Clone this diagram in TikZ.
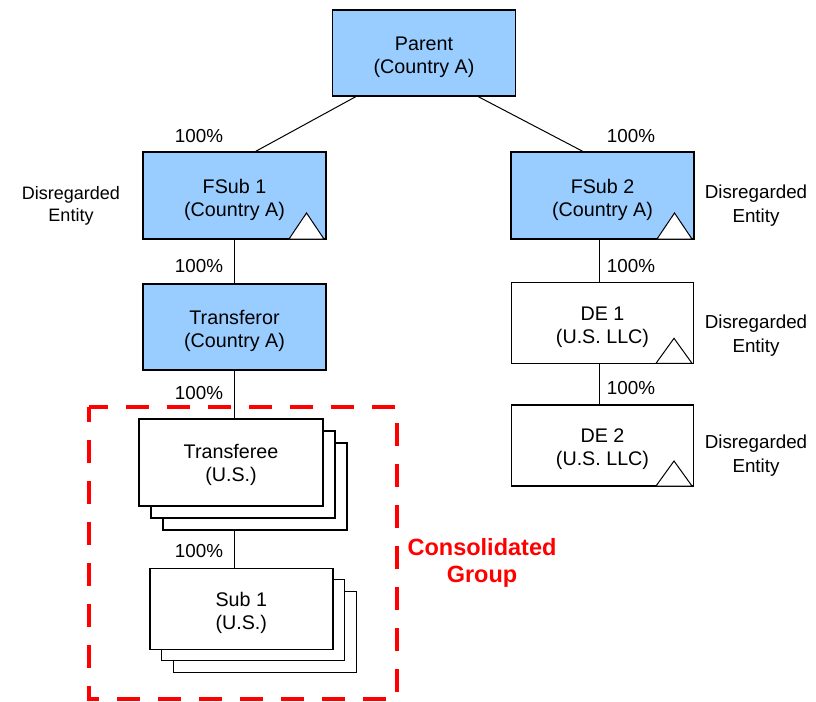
\documentclass[tikz,border=0pt]{standalone}
\usepackage{fontspec}
\setmainfont{Liberation Sans}
\definecolor{boxblue}{RGB}{153,204,255}
\definecolor{grpred}{RGB}{255,0,0}
\begin{document}
\begin{tikzpicture}[x=1pt,y=-1pt,
  boxtext/.style={align=center, inner sep=0pt, font=\fontsize{19.7}{23}\selectfont, yshift=-4pt},
  plainbox/.style={draw=black, line width=1.4pt, fill=white, minimum width=183pt, minimum height=87pt,
    inner sep=0pt, outer sep=0pt},
  box/.style={plainbox, label={[boxtext]center:#1}},
  bluebox/.style={box=#1, fill=boxblue},
  pctlbl/.style={align=center, inner sep=0pt, font=\fontsize{18.8}{23}\selectfont},
  delbl/.style={align=center, inner sep=0pt, font=\fontsize{18}{22.4}\selectfont},
  delblr/.style={align=center, inner sep=0pt, font=\fontsize{18.8}{24}\selectfont},
  grouplbl/.style={align=center, inner sep=0pt, text=grpred, font=\bfseries\fontsize{23.5}{27}\selectfont},
  conn/.style={draw=black, line width=1pt},
  tri/.style={draw=black, line width=1pt, fill=white, line join=miter},
  grpframe/.style={draw=grpred, line width=4.6pt, dash pattern=on 23pt off 18pt, dash phase=8pt}
]
\useasboundingbox (0,0) rectangle (816,701);

% main boxes
\node[bluebox={Parent\\(Country A)}, minimum height=86pt] (parent) at (424,53) {};
\node[bluebox={FSub 1\\(Country A)}] (fs1) at (234.5,195.5) {};
\node[bluebox={FSub 2\\(Country A)}] (fs2) at (602.5,195.5) {};
\node[bluebox={Transferor\\(Country A)}, minimum height=86pt] (tor) at (234.5,327) {};
\node[box={DE 1\\(U.S. LLC)}, minimum width=182pt, minimum height=80.6pt] (de1) at (602.5,323) {};
\node[box={DE 2\\(U.S. LLC)}, minimum width=182pt, minimum height=81pt] (de2) at (602.5,445.5) {};

% stacked transferee
\node[plainbox, minimum width=184pt] (tf3) at (255,486.5) {};
\node[plainbox, minimum width=184pt] (tf2) at (243,474.5) {};
\node[plainbox, minimum width=184pt, label={[boxtext, yshift=2pt]center:Transferee\\(U.S.)}] (tf) at (231,462.5) {};

% stacked sub 1
\node[plainbox, minimum height=81pt] (sub3) at (265,632) {};
\node[plainbox, minimum height=81pt] (sub2) at (253,620) {};
\node[box={Sub 1\\(U.S.)}, minimum height=81pt] (sub) at (241.3,608.8) {};

% triangles
\draw[tri] ([xshift=-2pt]fs1.south east) -- ++(-35,0) -- ++(17.5,-26) -- cycle;
\draw[tri] ([xshift=-2pt]fs2.south east) -- ++(-35,0) -- ++(17.5,-26) -- cycle;
\draw[tri] ([xshift=-1.5pt]de1.south east) -- ++(-36,0) -- ++(18,-25) -- cycle;
\draw[tri] ([xshift=-1.5pt]de2.south east) -- ++(-36,0) -- ++(18,-25) -- cycle;

% connectors
\draw[conn] ([xshift=-67pt]parent.south) -- ([xshift=20pt]fs1.north);
\draw[conn] ([xshift=53pt]parent.south) -- ([xshift=-18.5pt]fs2.north);
\draw[conn] (fs1.south) -- (tor.north);
\draw[conn] ([xshift=-3.5pt]fs2.south) -- ([xshift=-3.5pt]de1.north);
\draw[conn] ([xshift=-3pt]de1.south) -- ([xshift=-3pt]de2.north);
\draw[conn] (tor.south) -- (tor.south |- tf.north);
\draw[conn] (tf3.south -| tor.south) -- (sub.north -| tor.south);

% ownership labels
\node[pctlbl] (l1) at (199,136.5) {100\%};
\node[pctlbl] (l2) at (631,136.5) {100\%};
\node[pctlbl] (l3) at (199,266) {100\%};
\node[pctlbl] (l4) at (631,266) {100\%};
\node[pctlbl] (l5) at (199,393) {100\%};
\node[pctlbl] (l6) at (631,388) {100\%};
\node[pctlbl] (l7) at (199,551) {100\%};

% disregarded entity labels
\node[delbl] (d1) at (71,206) {Disregarded\\Entity};
\node[delblr] (d2) at (756,206) {Disregarded\\Entity};
\node[delblr] (d3) at (756,336) {Disregarded\\Entity};
\node[delblr] (d4) at (756,456) {Disregarded\\Entity};

% consolidated group
\draw[grpframe] (89,407) rectangle (397,699);
\node[grouplbl] (cgl) at (482,563) {Consolidated\\Group};
\end{tikzpicture}
\end{document}
